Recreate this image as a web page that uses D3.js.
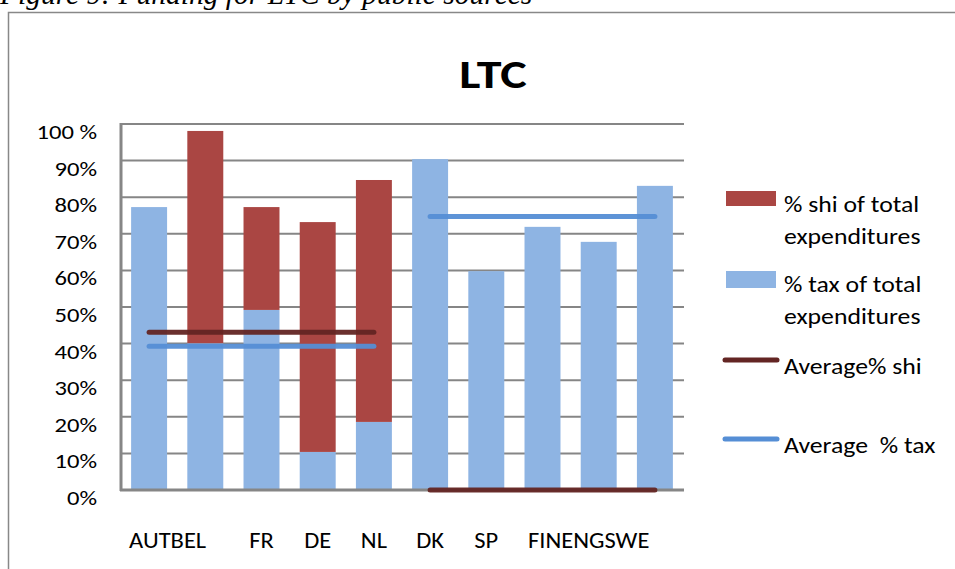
<!DOCTYPE html>
<html>
<head>
<meta charset="utf-8">
<script src="https://cdn.jsdelivr.net/npm/d3@7"></script>
<style>
  html, body { margin: 0; padding: 0; background: #fff; }
  svg { display: block; }
  text { font-family: Carlito, Lato, "Open Sans", sans-serif; fill: #000; white-space: pre; }
</style>
</head>
<body>
<svg id="chart" width="955" height="569"></svg>
<script>
// ---- data ----
const categories = ["AUT", "BEL", "FR", "DE", "NL", "DK", "SP", "FIN", "ENG", "SWE"];
const system     = ["shi", "shi", "shi", "shi", "shi", "tax", "tax", "tax", "tax", "tax"];
const taxShare   = [77.3, 40.1, 49.2, 10.4, 18.6, 90.4, 59.8, 71.9, 67.8, 83.1];
const shiShare   = [0, 58.0, 28.1, 62.8, 66.1, 0, 0, 0, 0, 0];
const avgShi     = [43.1, 43.1, 43.1, 43.1, 43.1, 0, 0, 0, 0, 0];
const avgTax     = [39.3, 39.3, 39.3, 39.3, 39.3, 74.7, 74.7, 74.7, 74.7, 74.7];
const yTicks     = [0, 10, 20, 30, 40, 50, 60, 70, 80, 90, 100];
const yTickLabels = ["0%", "10%", "20%", "30%", "40%", "50%", "60%", "70%", "80%", "90%", "100 %"];
const seriesNames = ["% shi of total expenditures", "% tax of total expenditures", "Average% shi", "Average  % tax"];
const chartTitle = "LTC";
const caption = "Figure 9: Funding for LTC by public sources";

// ---- layout ----
const svg = d3.select("#chart");
const C = { shi: "#AA4643", tax: "#8EB4E3", avgShi: "#632523", avgTax: "#558ED5", axis: "#868686" };
const plot = { left: 121, right: 684, top: 124, bottom: 490 };

const x = d3.scaleBand().domain(categories).range([plot.left, plot.right - 1])
  .paddingInner(0.36).paddingOuter(0.18);
const y = d3.scaleLinear().domain([0, 100]).range([plot.bottom, plot.top]);

// horizontally stretched text helper (the original chart is stretched sideways)
function T(parent, px, py, str, size, sx, anchor) {
  return parent.append("text")
    .attr("transform", `translate(${px},${py}) scale(${sx},1)`)
    .attr("text-anchor", anchor || "start")
    .style("font-size", size + "px").text(str);
}

// caption & frame
svg.append("text").attr("x", 0).attr("y", 4)
  .style("font-family", "'Liberation Serif', 'DejaVu Serif', serif")
  .style("font-style", "italic").style("font-size", "29.5px").text(caption);
svg.append("rect").attr("x", 8.5).attr("y", 12.5).attr("width", 960).attr("height", 600)
  .attr("fill", "none").attr("stroke", "#888").attr("stroke-width", 1.5);

// title
T(svg, 493, 88, chartTitle, 41, 1.22, "middle").style("font-weight", "bold");

// gridlines
svg.append("g").selectAll("line").data(yTicks.filter(t => t > 0)).join("line")
  .attr("x1", plot.left).attr("x2", plot.right)
  .attr("y1", d => y(d)).attr("y2", d => y(d))
  .attr("stroke", C.axis).attr("stroke-width", 2);

// y labels
const yl = svg.append("g");
yTicks.forEach((d, i) => T(yl, 97, y(d) + 15, yTickLabels[i], 20.5, 1.2, "end"));

// stacked bars
const rows = categories.map((c, i) => ({ cat: c, tax: taxShare[i], shi: shiShare[i] }));
const stack = d3.stack().keys(["tax", "shi"])(rows);
svg.append("g").selectAll("g").data(stack).join("g")
  .attr("fill", d => C[d.key])
  .selectAll("rect").data(d => d.filter(p => p[1] - p[0] > 0)).join("rect")
  .attr("x", d => x(d.data.cat)).attr("width", x.bandwidth())
  .attr("y", d => y(d[1])).attr("height", d => y(d[0]) - y(d[1]));

// axes lines
svg.append("line").attr("x1", plot.left).attr("x2", plot.left)
  .attr("y1", plot.top - 1).attr("y2", plot.bottom + 1).attr("stroke", C.axis).attr("stroke-width", 3);
svg.append("line").attr("x1", plot.left - 1).attr("x2", plot.right)
  .attr("y1", plot.bottom).attr("y2", plot.bottom).attr("stroke", C.axis).attr("stroke-width", 3);

// average lines, one segment per financing system
const line = d3.line().x(d => x(d.cat) + x.bandwidth() / 2).y(d => y(d.v));
function drawAvg(values, color) {
  const groups = d3.groups(categories.map((c, i) => ({ cat: c, v: values[i], g: system[i] })), d => d.g);
  svg.append("g").selectAll("path").data(groups).join("path")
    .attr("d", d => line(d[1])).attr("fill", "none")
    .attr("stroke", color).attr("stroke-width", 5).attr("stroke-linecap", "round").attr("opacity", 0.95);
}
drawAvg(avgShi, C.avgShi);
drawAvg(avgTax, C.avgTax);

// x labels (packed runs start near their first bar's left edge, as in the original)
const packedRuns = [{ cats: ["AUT", "BEL"], dx: -2 }, { cats: ["FIN", "ENG", "SWE"], dx: 3.5 }];
const xs = 1.14, xsize = 21.5;
const xl = svg.append("g");
categories.forEach(c => {
  if (packedRuns.find(r => r.cats.includes(c))) return;
  T(xl, x(c) + x.bandwidth() / 2, 548, c, xsize, xs, "middle");
});
packedRuns.forEach(run => {
  let cx = x(run.cats[0]) + run.dx;
  run.cats.forEach(c => {
    const t = T(xl, cx, 548, c, xsize, xs, "start");
    cx += t.node().getComputedTextLength() * xs;
  });
});

// legend
const lg = svg.append("g");
const lx = 784, ls = 22, lsx = 1.17;
lg.append("rect").attr("x", 726).attr("y", 191).attr("width", 50).attr("height", 15).attr("fill", C.shi);
T(lg, lx, 212, "% shi of total", ls, lsx);
T(lg, lx, 243.5, "expenditures", ls, lsx);
lg.append("rect").attr("x", 726).attr("y", 271).attr("width", 50).attr("height", 17).attr("fill", C.tax);
T(lg, lx, 292, "% tax of total", ls, lsx);
T(lg, lx, 323.5, "expenditures", ls, lsx);
lg.append("line").attr("x1", 725).attr("x2", 777).attr("y1", 360).attr("y2", 360)
  .attr("stroke", C.avgShi).attr("stroke-width", 5).attr("stroke-linecap", "round");
T(lg, lx, 374, seriesNames[2], ls, lsx);
lg.append("line").attr("x1", 725).attr("x2", 777).attr("y1", 439).attr("y2", 439)
  .attr("stroke", C.avgTax).attr("stroke-width", 5).attr("stroke-linecap", "round");
T(lg, lx, 453, seriesNames[3], ls, lsx);
</script>
</body>
</html>
